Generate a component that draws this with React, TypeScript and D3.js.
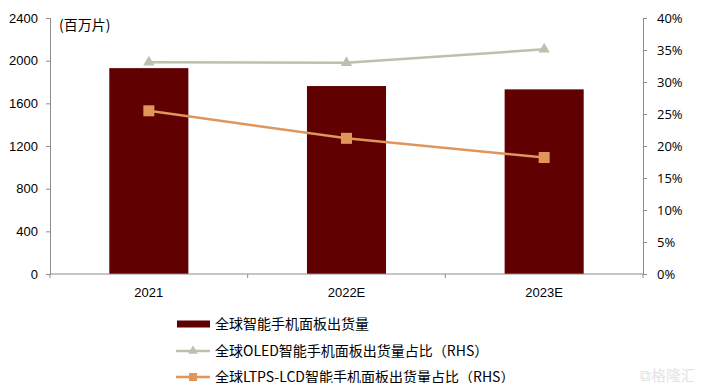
import React, { useEffect, useRef } from 'react';
import * as d3 from 'd3';

// 数据
const categories = ['2021', '2022E', '2023E'];
const shipments = [1930, 1762, 1731]; // 百万片
const oledShare = [0.331, 0.33, 0.351];
const ltpsShare = [0.255, 0.212, 0.182];
const leftTicks = [0, 400, 800, 1200, 1600, 2000, 2400];
const rightTicks = [0, 0.05, 0.1, 0.15, 0.2, 0.25, 0.3, 0.35, 0.4];
const legendLabels = [
  '全球智能手机面板出货量',
  '全球OLED智能手机面板出货量占比（RHS）',
  '全球LTPS-LCD智能手机面板出货量占比（RHS）',
];

const BAR = '#600000';
const OLED = '#bfbfad';
const LTPS = '#e0955a';
const AXIS = '#8c8c8c';

const App = () => {
  const ref = useRef<SVGSVGElement>(null);

  useEffect(() => {
    const svg = d3.select(ref.current);
    svg.selectAll('*').remove();

    const left = 50, right = 643, top = 18, bottom = 274;

    const x = d3.scaleBand().domain(categories).range([left, right]).padding(0);
    const y = d3.scaleLinear().domain([0, 2400]).range([bottom, top]);
    const y2 = d3.scaleLinear().domain([0, 0.4]).range([bottom, top]);
    const cx = (c: string) => (x(c) as number) + x.bandwidth() / 2;
    const barW = x.bandwidth() * 0.4;

    // 柱子
    svg.append('g')
      .selectAll('rect')
      .data(categories)
      .join('rect')
      .attr('x', d => cx(d) - barW / 2)
      .attr('y', (d, i) => y(shipments[i]))
      .attr('width', barW)
      .attr('height', (d, i) => bottom - y(shipments[i]))
      .attr('fill', BAR);

    // 左轴
    const gl = svg.append('g').attr('transform', `translate(${left},0)`)
      .call(d3.axisLeft(y).tickValues(leftTicks).tickSize(4).tickPadding(8).tickFormat(d3.format('d')));
    gl.select('.domain').attr('stroke', AXIS);
    gl.selectAll('.tick line').attr('stroke', AXIS);
    gl.selectAll('text').attr('font-family', 'Liberation Sans, Arial, sans-serif').attr('font-size', 13).attr('fill', '#000');

    // 右轴
    const gr = svg.append('g').attr('transform', `translate(${right},0)`)
      .call(d3.axisRight(y2).tickValues(rightTicks).tickSize(4).tickPadding(10).tickFormat(d3.format('.0%')));
    gr.select('.domain').attr('stroke', AXIS);
    gr.selectAll('.tick line').attr('stroke', AXIS);
    gr.selectAll('text').attr('font-family', 'Open Sans, sans-serif').attr('font-size', 13).attr('fill', '#000');

    // 下轴
    const gb = svg.append('g').attr('transform', `translate(0,${bottom})`);
    gb.append('line').attr('x1', left).attr('x2', right).attr('stroke', AXIS);
    const bounds = [left, ...categories.map(c => (x(c) as number) + x.bandwidth())];
    gb.selectAll('line.tk').data(bounds).join('line').attr('class', 'tk')
      .attr('x1', d => d).attr('x2', d => d).attr('y1', 0).attr('y2', 4).attr('stroke', AXIS);
    gb.selectAll('text').data(categories).join('text')
      .attr('x', d => cx(d)).attr('y', 23)
      .attr('text-anchor', 'middle')
      .attr('font-family', 'Liberation Sans, Arial, sans-serif').attr('font-size', 13)
      .text(d => d);

    // 单位
    svg.append('text').attr('x', 59).attr('y', 30)
      .attr('font-family', 'Noto Sans CJK SC, sans-serif').attr('font-size', 14)
      .text('(百万片)');

    const line = d3.line<number>()
      .x((d, i) => cx(categories[i]))
      .y(d => y2(d));

    // OLED
    svg.append('path').attr('d', line(oledShare)).attr('fill', 'none').attr('stroke', OLED).attr('stroke-width', 2.5);
    svg.append('g').selectAll('path').data(oledShare).join('path')
      .attr('d', d3.symbol(d3.symbolTriangle, 55)())
      .attr('transform', (d, i) => `translate(${cx(categories[i])},${y2(d)})`)
      .attr('fill', OLED);

    // LTPS
    svg.append('path').attr('d', line(ltpsShare)).attr('fill', 'none').attr('stroke', LTPS).attr('stroke-width', 2.5);
    svg.append('g').selectAll('rect').data(ltpsShare).join('rect')
      .attr('x', (d, i) => cx(categories[i]) - 5.5)
      .attr('y', d => y2(d) - 5.5)
      .attr('width', 11).attr('height', 11)
      .attr('fill', LTPS);

    // 图例
    const lg = svg.append('g').attr('font-family', 'Noto Sans CJK SC, sans-serif').attr('font-size', 14);
    const ly = [324, 351, 377];
    lg.append('rect').attr('x', 177).attr('y', ly[0] - 3.5).attr('width', 33).attr('height', 7).attr('fill', BAR);
    lg.append('line').attr('x1', 176).attr('x2', 210).attr('y1', ly[1]).attr('y2', ly[1]).attr('stroke', OLED).attr('stroke-width', 2.5);
    lg.append('path').attr('d', d3.symbol(d3.symbolTriangle, 40)()).attr('transform', `translate(193,${ly[1]})`).attr('fill', OLED);
    lg.append('line').attr('x1', 176).attr('x2', 210).attr('y1', ly[2]).attr('y2', ly[2]).attr('stroke', LTPS).attr('stroke-width', 2.5);
    lg.append('rect').attr('x', 189).attr('y', ly[2] - 4).attr('width', 8).attr('height', 8).attr('fill', LTPS);
    lg.selectAll('text').data(legendLabels).join('text')
      .attr('x', 215).attr('y', (d, i) => ly[i]).attr('dy', '0.35em')
      .text(d => d);

    // 水印
    svg.append('text').attr('x', 640).attr('y', 381)
      .attr('font-family', 'Noto Sans CJK SC, sans-serif').attr('font-size', 15)
      .attr('fill', '#e4e4e4').text('⧉格隆汇');
  }, []);

  return (
    <div style={{ margin: -8 }}>
      <svg ref={ref} width={702} height={391} style={{ display: 'block', background: '#fff' }} />
    </div>
  );
};

export default App;
